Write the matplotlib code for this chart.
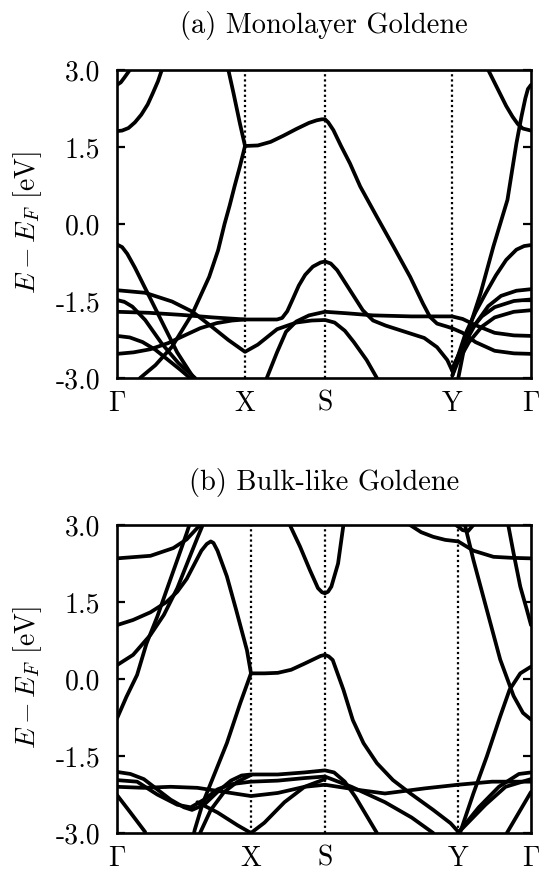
import matplotlib
matplotlib.use("Agg")
import matplotlib.pyplot as plt

plt.rcParams['font.family'] = 'cmr10'
plt.rcParams['mathtext.fontset'] = 'cm'
plt.rcParams['axes.unicode_minus'] = False

# high symmetry points (path length, arbitrary units)
kpts_a = [0.0, 1.0, 1.625, 2.617, 3.234]
kpts_b = [0.0, 1.0, 1.552, 2.545, 3.09]
klabels = [r'$\Gamma$', 'X', 'S', 'Y', r'$\Gamma$']
yticks = [3.0, 1.5, 0.0, -1.5, -3.0]
ytick_labels = ['3.0', '1.5', '0.0', '-1.5', '-3.0']

# ---- (a) monolayer goldene, bands as (k, E)
a_g_top = [(0, 2.71), (0.03, 2.76), (0.06, 2.86), (0.1, 3.0)]
a_g_18 = [(0, 1.81), (0.04, 1.82), (0.09, 1.87), (0.14, 1.98), (0.19, 2.13), (0.24, 2.33),
          (0.28, 2.55), (0.32, 2.78), (0.35, 3.0)]
a_x_upper = [(0.87, 3.0), (0.91, 2.55), (0.96, 1.96), (1.0, 1.52), (1.1, 1.53), (1.2, 1.6),
             (1.3, 1.72), (1.4, 1.85), (1.5, 1.97), (1.56, 2.02), (1.6, 2.04), (1.625, 2.04),
             (1.65, 1.98), (1.69, 1.83), (1.75, 1.52), (1.82, 1.18), (1.9, 0.73), (2.03, 0.14),
             (2.16, -0.44), (2.29, -1.03), (2.39, -1.55), (2.445, -1.81), (2.5, -1.94),
             (2.58, -2.0), (2.617, -2.03), (2.7, -2.12), (2.8, -2.3), (2.95, -2.47),
             (3.1, -2.52), (3.234, -2.53)]
a_x_lower = [(0.18, -3.0), (0.3, -2.75), (0.43, -2.39), (0.59, -1.74), (0.72, -1.03),
             (0.79, -0.51), (0.84, 0.0), (0.88, 0.36), (0.92, 0.75), (0.96, 1.12), (1.0, 1.52)]
a_g_m04 = [(0, -0.40), (0.04, -0.45), (0.08, -0.58), (0.14, -0.85), (0.22, -1.25),
           (0.3, -1.65), (0.38, -2.05), (0.47, -2.5), (0.56, -2.85), (0.6, -3.0)]
a_g_m13 = [(0, -1.29), (0.22, -1.34), (0.43, -1.51), (0.59, -1.71), (0.74, -2.0),
           (0.87, -2.26), (1.0, -2.49), (1.1, -2.35), (1.25, -2.05), (1.4, -1.92),
           (1.52, -1.88), (1.625, -1.87), (1.7, -1.92), (1.78, -2.08), (1.85, -2.3),
           (1.95, -2.65), (2.03, -3.0)]
a_g_m15 = [(0, -1.48), (0.06, -1.52), (0.12, -1.61), (0.22, -1.87), (0.35, -2.33),
           (0.48, -2.71), (0.61, -3.0)]
a_g_m17 = [(0, -1.71), (0.25, -1.73), (0.5, -1.77), (0.75, -1.82), (1.0, -1.86), (1.25, -1.86),
           (1.29, -1.83), (1.33, -1.7), (1.37, -1.48), (1.42, -1.2), (1.47, -0.99), (1.53, -0.83),
           (1.59, -0.75), (1.625, -0.73), (1.67, -0.77), (1.72, -0.9), (1.82, -1.29),
           (1.92, -1.68), (2.0, -1.88), (2.1, -1.98), (2.25, -2.1), (2.4, -2.22), (2.5, -2.4),
           (2.58, -2.65), (2.617, -2.85), (2.66, -2.6), (2.75, -2.1), (2.85, -1.8),
           (2.95, -1.62), (3.1, -1.5), (3.234, -1.47)]
a_g_m22 = [(0, -2.18), (0.1, -2.21), (0.2, -2.3), (0.3, -2.45), (0.4, -2.65), (0.5, -2.85),
           (0.57, -3.0)]
a_g_m25 = [(0, -2.53), (0.13, -2.5), (0.26, -2.44), (0.4, -2.32), (0.52, -2.18), (0.65, -2.03),
           (0.78, -1.93), (0.9, -1.88), (1.0, -1.86)]
a_xs_rise = [(1.17, -3.0), (1.25, -2.5), (1.32, -2.1), (1.4, -1.9), (1.5, -1.78), (1.625, -1.71),
             (1.8, -1.74), (2.0, -1.78), (2.3, -1.8), (2.617, -1.8), (2.7, -1.85),
             (2.8, -1.97), (2.95, -2.12), (3.1, -2.17), (3.234, -2.18)]
a_yg_steep = [(2.666, -3.0), (2.73, -2.19), (2.84, -1.35), (2.94, -0.44), (3.05, 0.47),
              (3.12, 1.57), (3.16, 2.1), (3.19, 2.45), (3.21, 2.63), (3.234, 2.71)]
a_yg_18 = [(2.9, 3.0), (2.95, 2.75), (2.99, 2.55), (3.04, 2.3), (3.09, 2.09), (3.13, 1.95),
           (3.17, 1.86), (3.234, 1.82)]
a_yg_m04 = [(2.62, -2.95), (2.66, -2.6), (2.72, -2.15), (2.8, -1.72), (2.88, -1.35),
            (2.96, -1.0), (3.04, -0.7), (3.12, -0.5), (3.18, -0.43), (3.234, -0.41)]
a_yg_m13 = [(2.617, -2.85), (2.64, -2.7), (2.7, -2.4), (2.8, -1.95), (2.9, -1.6),
            (3.0, -1.4), (3.12, -1.3), (3.234, -1.27)]
a_yg_m17 = [(2.62, -2.95), (2.66, -2.7), (2.75, -2.3), (2.85, -2.0), (2.95, -1.82),
            (3.1, -1.71), (3.234, -1.68)]

# ---- (b) bulk-like goldene
b_g_23 = [(0, 2.35), (0.25, 2.4), (0.42, 2.55), (0.52, 2.72), (0.62, 3.0)]
b_g_m08 = [(0, -0.77), (0.07, -0.35), (0.15, 0.08), (0.22, 0.69), (0.3, 1.21), (0.37, 1.73),
           (0.45, 2.32), (0.52, 2.84), (0.54, 3.0)]
b_g_10 = [(0, 1.05), (0.12, 1.15), (0.25, 1.3), (0.37, 1.5), (0.45, 1.7), (0.52, 1.95),
          (0.58, 2.25), (0.63, 2.5), (0.67, 2.63), (0.7, 2.68), (0.72, 2.65), (0.75, 2.5),
          (0.82, 2.0), (0.89, 1.34), (0.97, 0.56), (1.0, 0.11)]
b_g_03 = [(0, 0.27), (0.12, 0.47), (0.25, 0.86), (0.35, 1.25), (0.45, 1.77), (0.54, 2.36),
          (0.6, 2.75), (0.64, 3.0)]
b_x_lower = [(0.575, -3.0), (0.58, -2.94), (0.64, -2.42), (0.72, -1.9), (0.82, -1.25),
             (0.92, -0.47), (1.0, 0.11)]
b_xs = [(1.0, 0.11), (1.1, 0.11), (1.2, 0.12), (1.3, 0.18), (1.4, 0.3), (1.48, 0.4),
        (1.52, 0.45), (1.552, 0.47), (1.58, 0.44), (1.61, 0.37), (1.69, -0.21), (1.76, -0.8),
        (1.84, -1.25), (1.94, -1.64), (2.06, -1.97), (2.19, -2.23), (2.36, -2.55),
        (2.49, -2.81), (2.545, -2.97)]
b_s_u = [(1.29, 3.0), (1.366, 2.58), (1.44, 2.12), (1.5, 1.77), (1.53, 1.69), (1.552, 1.67),
         (1.575, 1.7), (1.6, 1.8), (1.65, 2.25), (1.69, 3.0)]
b_yg_27 = [(2.187, 3.0), (2.27, 2.86), (2.36, 2.77), (2.45, 2.71), (2.547, 2.68), (2.66, 2.5),
           (2.81, 2.38), (2.95, 2.36), (3.09, 2.35)]
b_y_arc = [(2.53, 3.0), (2.58, 2.9), (2.62, 2.88), (2.66, 3.0)]
b_yg_m08 = [(2.597, 3.0), (2.66, 2.32), (2.76, 1.35), (2.86, 0.38), (2.96, -0.33),
            (3.03, -0.66), (3.09, -0.79)]
b_yg_10 = [(2.92, 3.0), (2.96, 2.45), (3.01, 1.8), (3.06, 1.34), (3.09, 1.05)]
b_yg_03 = [(2.56, -3.0), (2.66, -2.23), (2.76, -1.51), (2.86, -0.73), (2.93, -0.21),
           (3.01, 0.11), (3.09, 0.24)]
b_c1 = [(0, -1.81), (0.1, -1.85), (0.2, -1.95), (0.3, -2.15), (0.4, -2.35), (0.5, -2.5),
        (0.56, -2.55), (0.65, -2.45), (0.75, -2.2), (0.85, -1.98), (0.93, -1.88), (1.0, -1.86),
        (1.2, -1.86), (1.4, -1.82), (1.552, -1.78), (1.62, -1.82), (1.7, -2.0), (1.78, -2.3),
        (1.86, -2.65), (1.94, -3.0)]
b_c2 = [(0, -2.1), (0.2, -2.12), (0.4, -2.1), (0.6, -2.12), (0.8, -2.2), (1.0, -2.28),
        (1.2, -2.22), (1.4, -2.1), (1.552, -2.06), (1.8, -2.16), (2.0, -2.23), (2.3, -2.13),
        (2.545, -2.06), (2.8, -2.0), (3.09, -2.0)]
b_c3 = [(0, -1.97), (0.15, -2.0), (0.3, -2.25), (0.45, -2.45), (0.55, -2.5), (0.65, -2.35),
        (0.75, -2.15), (0.85, -2.05), (1.0, -2.0), (1.2, -1.98), (1.4, -1.93), (1.552, -1.9),
        (1.75, -2.1), (2.0, -2.4), (2.2, -2.7), (2.36, -3.0)]
b_c4 = [(0, -2.26), (0.1, -2.6), (0.21, -2.98)]
b_c5 = [(0.6, -2.4), (0.75, -2.6), (0.9, -2.85), (1.0, -3.0), (1.1, -2.8), (1.25, -2.4),
        (1.4, -2.1), (1.552, -1.95)]
b_c6 = [(0.62, -3.0), (0.7, -2.55), (0.8, -2.2), (0.9, -2.0), (1.0, -1.87)]
b_yg_c1 = [(2.545, -3.0), (2.7, -2.5), (2.85, -2.1), (3.0, -1.85), (3.09, -1.82)]
b_yg_c2 = [(2.545, -3.0), (2.75, -2.45), (2.9, -2.1), (3.09, -1.95)]
b_yg_c3 = [(2.91, -3.0), (3.0, -2.6), (3.09, -2.2)]

bands_a = [a_g_top, a_g_18, a_x_upper, a_x_lower, a_g_m04, a_g_m13, a_g_m15, a_g_m17,
           a_g_m22, a_g_m25, a_xs_rise, a_yg_steep, a_yg_18, a_yg_m04, a_yg_m13, a_yg_m17]
bands_b = [b_g_23, b_g_m08, b_g_10, b_g_03, b_x_lower, b_xs, b_s_u, b_yg_27, b_y_arc,
           b_yg_m08, b_yg_10, b_yg_03, b_c1, b_c2, b_c3, b_c4, b_c5, b_c6,
           b_yg_c1, b_yg_c2, b_yg_c3]


def draw_panel(ax, bands, kpts):
    for band in bands:
        ks = [p[0] for p in band]
        es = [p[1] for p in band]
        ax.plot(ks, es, color='k', lw=2.7, solid_joinstyle='round', solid_capstyle='round')
    for k in kpts[1:-1]:
        ax.axvline(k, color='k', ls=(0, (1, 1.3)), lw=1.6)
    ax.set_xlim(kpts[0], kpts[-1])
    ax.set_ylim(-3.0, 3.0)
    ax.set_xticks(kpts)
    ax.set_xticklabels(klabels)
    ax.set_yticks(yticks)
    ax.set_yticklabels(ytick_labels)
    ax.tick_params(axis='y', direction='in', left=True, right=True, length=6, width=1.6,
                   labelsize=20, pad=12)
    ax.tick_params(axis='x', length=0, labelsize=20, pad=9)
    for s in ax.spines.values():
        s.set_linewidth(1.9)


fig = plt.figure(figsize=(5.39, 8.72), dpi=100)
ax1 = fig.add_axes([117 / 539, 1 - 378 / 872, 414 / 539, 308 / 872])
ax2 = fig.add_axes([117 / 539, 1 - 833 / 872, 414 / 539, 308 / 872])
draw_panel(ax1, bands_a, kpts_a)
draw_panel(ax2, bands_b, kpts_b)

fig.text(324 / 539, 1 - 26 / 872, '(a) Monolayer Goldene', ha='center', va='center', fontsize=20.5)
fig.text(324 / 539, 1 - 482 / 872, '(b) Bulk-like Goldene', ha='center', va='center', fontsize=20.5)
fig.text(28 / 539, 1 - 222 / 872, r'$E - E_F$ [eV]', rotation=90, ha='center', va='center', fontsize=20)
fig.text(28 / 539, 1 - 677 / 872, r'$E - E_F$ [eV]', rotation=90, ha='center', va='center', fontsize=20)

fig.savefig('out.png', dpi=100)
